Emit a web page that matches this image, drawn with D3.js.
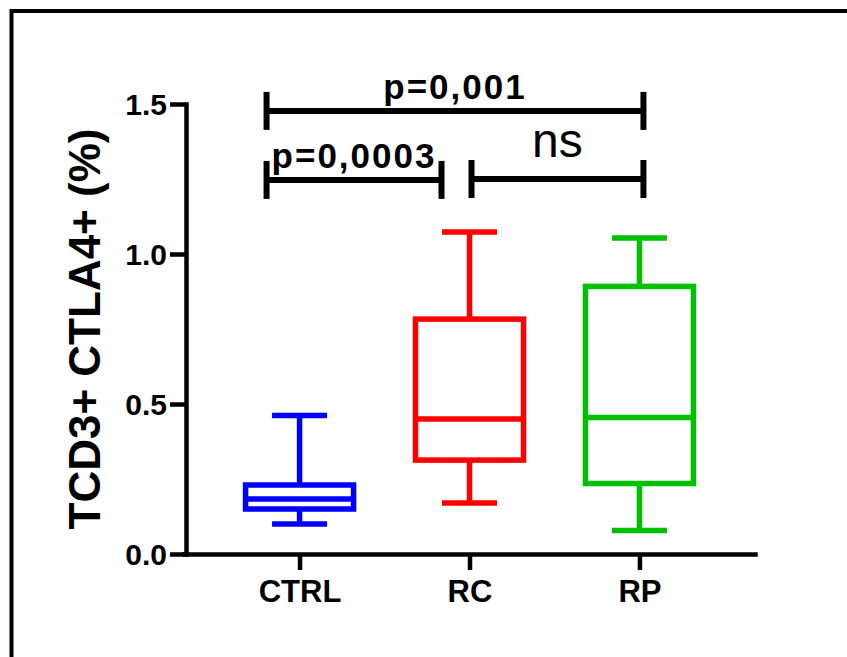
<!DOCTYPE html>
<html>
<head>
<meta charset="utf-8">
<script src="https://cdn.jsdelivr.net/npm/d3@7"></script>
<style>
  body { margin: 0; background: #fff; }
  svg { display: block; font-family: "Liberation Sans", Arial, sans-serif; }
</style>
</head>
<body>
<svg id="chart" width="847" height="657"></svg>
<script>
// groups and box stats
var groups = ["CTRL", "RC", "RP"];
var colors = ["#0000ff", "#ff0000", "#00c000"];
var whiskerLow = [0.10, 0.17, 0.078];
var q1 = [0.15, 0.313, 0.235];
var median = [0.183, 0.45, 0.455];
var q3 = [0.23, 0.783, 0.892];
var whiskerHigh = [0.462, 1.073, 1.053];

var yTicks = [0, 0.5, 1.0, 1.5];

// significance brackets
var compFrom = ["CTRL", "CTRL", "RC"];
var compTo = ["RP", "RC", "RP"];
var compLevel = [1.477, 1.247, 1.25];
var compLabel = ["p=0,001", "p=0,0003", "ns"];

var svg = d3.select("#chart");

// outer frame (runs off the right and bottom edges)
svg.append("rect")
  .attr("x", 11.5).attr("y", 11)
  .attr("width", 900).attr("height", 700)
  .attr("fill", "none").attr("stroke", "#000").attr("stroke-width", 4);

var x = d3.scalePoint().domain(groups).range([184, 755]).padding(0.68);
var y = d3.scaleLinear().domain([0, 1.5]).range([554, 104]);

var yAxis = d3.axisLeft(y).tickValues(yTicks).tickSize(16).tickSizeOuter(0)
  .tickPadding(3).tickFormat(d3.format(".1f"));
var xAxis = d3.axisBottom(x).tickSize(16).tickSizeOuter(0).tickPadding(10);

var gy = svg.append("g").attr("transform", "translate(186,0)").call(yAxis);
var gx = svg.append("g").attr("transform", "translate(0,554)").call(xAxis);

[gx, gy].forEach(function(g){
  g.selectAll("path, line").attr("stroke", "#000").attr("stroke-width", 4.5);
  g.select(".domain").attr("stroke-linecap", "square");
  g.selectAll("text").attr("fill", "#000").style("font-weight", "bold");
});
gy.selectAll("text").style("font-size", "30px").attr("dy", "0.35em");
gx.selectAll("text").style("font-size", "31px").attr("dy", "0.71em");

// y title
svg.append("text")
  .attr("transform", "translate(100,329) rotate(-90)")
  .attr("text-anchor", "middle")
  .style("font-size", "44px").style("font-weight", "bold")
  .text("TCD3+ CTLA4+ (%)");

// box plots
var boxW = 108, capW = 55, sw = 5.5;
groups.forEach(function(g, i){
  var cx = x(g), col = colors[i];
  var grp = svg.append("g").attr("stroke", col).attr("stroke-width", sw).attr("fill", "none");
  // whiskers
  grp.append("line").attr("x1", cx).attr("x2", cx).attr("y1", y(whiskerHigh[i])).attr("y2", y(q3[i]));
  grp.append("line").attr("x1", cx).attr("x2", cx).attr("y1", y(q1[i])).attr("y2", y(whiskerLow[i]));
  grp.append("line").attr("x1", cx - capW/2).attr("x2", cx + capW/2).attr("y1", y(whiskerHigh[i])).attr("y2", y(whiskerHigh[i]));
  grp.append("line").attr("x1", cx - capW/2).attr("x2", cx + capW/2).attr("y1", y(whiskerLow[i])).attr("y2", y(whiskerLow[i]));
  // box + median
  grp.append("rect").attr("x", cx - boxW/2).attr("y", y(q3[i]))
    .attr("width", boxW).attr("height", y(q1[i]) - y(q3[i]));
  grp.append("line").attr("x1", cx - boxW/2).attr("x2", cx + boxW/2).attr("y1", y(median[i])).attr("y2", y(median[i]));
});

// significance brackets
compLabel.forEach(function(lab, i){
  var x1 = x(compFrom[i]) - 33, x2 = x(compTo[i]) + 4;
  if (compFrom[i] === "RC") x1 = x(compFrom[i]) + 2;
  if (compTo[i] === "RC") x2 = x(compTo[i]) - 28;
  var yy = y(compLevel[i]);
  var b = svg.append("g").attr("stroke", "#000").attr("stroke-width", 6);
  b.append("line").attr("x1", x1).attr("x2", x2).attr("y1", yy).attr("y2", yy);
  b.append("line").attr("x1", x1).attr("x2", x1).attr("y1", yy - 19).attr("y2", yy + 19);
  b.append("line").attr("x1", x2).attr("x2", x2).attr("y1", yy - 19).attr("y2", yy + 19);
  var t = svg.append("text")
    .attr("x", (x1 + x2) / 2)
    .attr("text-anchor", "middle")
    .attr("fill", "#000")
    .text(lab);
  if (lab === "ns") {
    t.attr("y", yy - 22).style("font-size", "48px");
  } else {
    t.attr("y", yy - 12).style("font-size", "35px").style("font-weight", "bold")
      .style("letter-spacing", "2px");
  }
});
</script>
</body>
</html>
